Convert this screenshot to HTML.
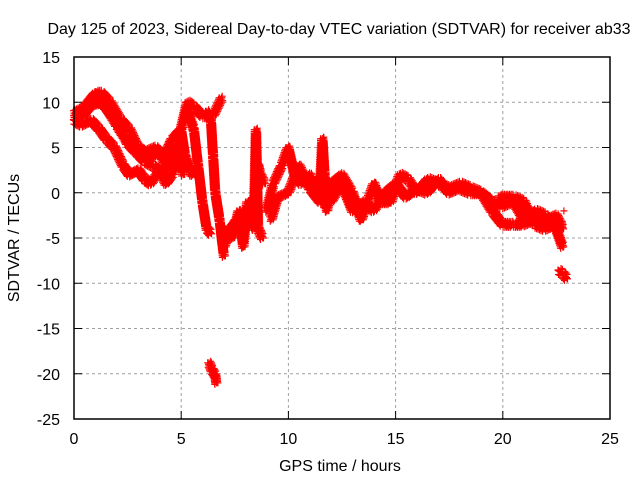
<!DOCTYPE html>
<html><head><meta charset="utf-8"><style>
body{margin:0;background:#fff}
svg{display:block;font-family:"Liberation Sans",sans-serif;font-size:16px}
</style></head><body>
<svg id="c" width="640" height="480">
<text x="339" y="34" text-anchor="middle">Day 125 of 2023, Sidereal Day-to-day VTEC variation (SDTVAR) for receiver ab33</text>
<text x="340" y="471" text-anchor="middle">GPS time / hours</text>
<text transform="translate(19,238) rotate(-90)" text-anchor="middle">SDTVAR / TECUs</text>
<g id="grid"></g>
<g id="ticks"></g>
<path id="marks" fill="none" stroke="#ff0000" stroke-width="1.2"></path>
<rect x="74" y="57" width="536" height="362" fill="none" stroke="#000" stroke-width="1.5"></rect>
</svg>
<script>
const xTicks=[0,5,10,15,20,25];
const yTicks=[15,10,5,0,-5,-10,-15,-20,-25];
const strandUpper=[[0,8.8],[0.5,9.5],[1,11],[1.3,11],[1.7,10],[2.2,8],[2.6,7],[3,5],[3.3,4.5],[3.8,5],[4.2,4],[4.6,6],[5,7],[5.2,4],[5.5,2],[5.8,3]];
const strandMid=[[0,8.3],[0.4,8.5],[0.9,9.8],[1.3,10],[1.8,8.5],[2.2,7],[2.5,5.5],[2.9,4.5],[3.3,3.5],[3.7,3],[4.1,2],[4.5,3.5],[4.9,5],[5.1,2]];
const strandMid2=[[0.5,9],[1,10.5],[1.5,9.5],[2,7.5],[2.4,6],[2.8,5],[3.2,4],[3.6,4],[4,4.5],[4.3,3],[4.7,5],[5,4]];
const strandLower=[[0,8],[0.4,7.5],[0.8,8],[1.2,7],[1.5,6],[1.9,5],[2.3,3],[2.6,2],[3,2.5],[3.3,1.5],[3.6,1],[4,2.5],[4.3,1],[4.6,2],[4.8,4],[5,7],[5.3,10],[5.6,9.5],[6,8.5],[6.5,8.5],[6.9,10.5]];
const dropA=[[5.3,9],[5.6,7],[5.8,3],[6.0,-1],[6.2,-4],[6.4,-4.5]];
const dropB=[[6.2,9],[6.4,8],[6.5,4],[6.6,0],[6.8,-3],[7,-7]];
const lowDots=[[6.3,-18.8],[6.45,-19.6],[6.6,-20.2],[6.65,-21]];
const clusterA=[[7,-6],[7.3,-4],[7.6,-3],[8,-2],[8.2,-3],[8.5,0],[8.6,3],[8.7,2],[8.9,1]];
const clusterB=[[7.1,-4],[7.4,-5],[7.7,-2],[7.9,-6],[8.1,-1],[8.4,-4],[8.5,7],[8.6,-4],[8.8,-5]];
const clusterC=[[9,-2],[9.3,1],[9.7,3],[10,5],[10.3,2],[10.6,1],[11,2],[11.3,0],[11.5,1],[11.6,6],[11.7,2],[11.8,-2],[12,1],[12.5,2],[13,0],[13.4,-3],[13.7,-1],[14,1],[14.3,-1],[14.8,-1],[15.2,2],[15.6,1.5],[16,0],[16.5,1.5],[17,1],[17.5,0.5],[18,1],[18.5,0.5],[19,0],[19.5,-1],[20,-1.5],[20.5,-1],[21,-3],[21.5,-2],[22,-2.5],[22.5,-4],[22.8,-6]];
const strandEvening=[[9.2,-3],[9.5,-0.5],[10,0],[10.5,3],[11,0.5],[11.5,-1],[12,-1],[12.5,1],[13,-2],[13.5,-1],[14,-2],[14.5,0],[15,1],[15.5,-0.5],[16,0.5],[16.5,0],[17,1.5],[17.5,0],[18,0.5],[18.5,0],[19,0],[19.5,-2],[20,-3.5],[20.5,-3.5],[21,-3.5],[21.5,-3],[22,-3],[22.5,-2.5],[22.8,-4]];
const strandLate=[[19.8,-0.5],[20.5,-0.5],[21,-1],[21.5,-3.5],[22,-4],[22.5,-3.5],[22.8,-3.5]];
const endDots=[[22.6,-8.6],[22.8,-8.9],[23,-9.5]];
const strayDots=[[22.85,-2]];
const series=[strandUpper,strandMid,strandMid2,strandLower,dropA,dropB,lowDots,clusterA,clusterB,clusterC,strandEvening,strandLate,endDots,strayDots];

const X0=74,X1=610,Y0=57,Y1=419;
const sx=h=>X0+(h-0)/(25-0)*(X1-X0);
const sy=v=>Y1-(v+25)/(40)*(Y1-Y0);
const NS='http://www.w3.org/2000/svg';
const grid=document.getElementById('grid'),ticks=document.getElementById('ticks');
function mk(tag,at,parent){const e=document.createElementNS(NS,tag);for(const k in at)e.setAttribute(k,at[k]);parent.appendChild(e);return e;}
xTicks.forEach(t=>{
  const x=sx(t);
  if(t>0&&t<25){const l=mk('line',{x1:x,y1:Y0,x2:x,y2:Y1,stroke:'#a0a0a0','stroke-dasharray':'3,3'},grid);
    
    }
  const a=mk('line',{x1:x,y1:Y1,x2:x,y2:Y1-8,stroke:'#000'},ticks);
  
  
  mk('line',{x1:x,y1:Y0,x2:x,y2:Y0+8,stroke:'#000'},ticks);
  const tx=mk('text',{x:x,y:Y1+25,'text-anchor':'middle'},ticks);tx.textContent=t;
  
  
});
yTicks.forEach(t=>{
  const y=sy(t);
  if(t<15&&t>-25){const l=mk('line',{x1:X0,y1:y,x2:X1,y2:y,stroke:'#a0a0a0','stroke-dasharray':'3,3'},grid);
    
    }
  const a=mk('line',{x1:X0,y1:y,x2:X0+8,y2:y,stroke:'#000'},ticks);
  
  
  mk('line',{x1:X1,y1:y,x2:X1-8,y2:y,stroke:'#000'},ticks);
  const tx=mk('text',{x:X0-14,y:y+6,'text-anchor':'end'},ticks);tx.textContent=t;
  
  
});
let d='';const r=3.5;
function plus(x,y){d+=`M${(x-r).toFixed(1)} ${y.toFixed(1)}h${2*r}M${x.toFixed(1)} ${(y-r).toFixed(1)}v${2*r}`;}
const offs=[[0,0],[1.5,1.5],[-1.5,3],[1,-3],[-2,-1.5]];
series.forEach(s=>{
  for(let i=0;i<s.length;i++){
    const x=sx(s[i][0]),y=sy(s[i][1]);plus(x,y);
    if(i+1<s.length){const x2=sx(s[i+1][0]),y2=sy(s[i+1][1]);
      const n=Math.max(1,Math.ceil(Math.hypot(x2-x,y2-y)/1.8));
      for(let k=1;k<n;k++){const f=k/n;offs.forEach(o=>plus(x+(x2-x)*f+o[0],y+(y2-y)*f+o[1]));}}
  }
});
document.getElementById('marks').setAttribute('d',d);
</script>
</body></html>
